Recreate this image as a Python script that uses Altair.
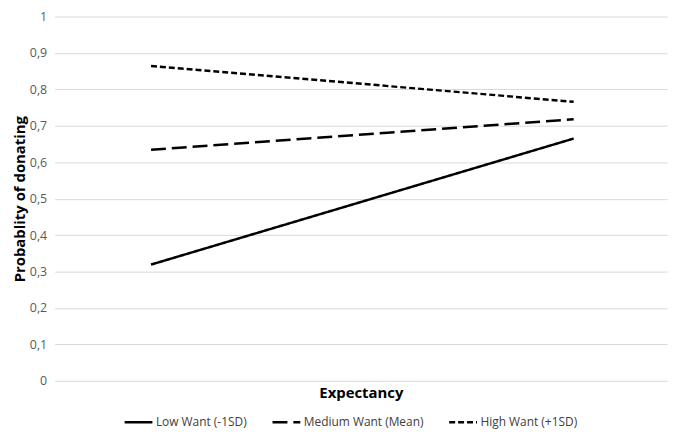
import altair as alt
import pandas as pd

series = ["Low Want (-1SD)", "Medium Want (Mean)", "High Want (+1SD)"]
x_pos = [0, 1]
low_vals = [0.319, 0.665]
medium_vals = [0.634, 0.718]
high_vals = [0.864, 0.766]

rows = []
for name, vals in zip(series, [low_vals, medium_vals, high_vals]):
    for xv, yv in zip(x_pos, vals):
        rows.append({"series": name, "x": xv, "value": yv})
df = pd.DataFrame(rows)

FONT = "Open Sans"

chart = alt.Chart(df).mark_line(strokeWidth=2.5, color="black").encode(
    x=alt.X("x:Q", scale=alt.Scale(domain=[-0.228, 1.221], nice=False, zero=False),
            axis=alt.Axis(title="Expectancy", labels=False, ticks=False, domain=False, grid=False,
                          titleFont=FONT, titleFontSize=15, titleFontWeight="bold", titleColor="black",
                          titlePadding=5)),
    y=alt.Y("value:Q", scale=alt.Scale(domain=[0, 1], nice=False),
            axis=alt.Axis(title="Probablity of donating", values=[i / 10 for i in range(11)],
                          labelExpr="replace(format(datum.value, '.1~f'), '.', ',')",
                          ticks=False, domain=False, gridColor="#d9d9d9", gridWidth=1,
                          labelFont=FONT, labelFontSize=12.5, labelColor="#595959", labelPadding=8,
                          titleFont=FONT, titleFontSize=15, titleFontWeight="bold", titleColor="black",
                          titlePadding=2)),
    strokeDash=alt.StrokeDash("series:N",
        scale=alt.Scale(domain=series, range=[[1, 0], [15, 6], [6, 3]]),
        legend=alt.Legend(title=None, orient="none", direction="horizontal", legendX=69, legendY=393,
                          symbolType="stroke", symbolSize=784, symbolStrokeWidth=2.5,
                          symbolStrokeColor="black", labelFont=FONT, labelFontSize=12,
                          labelColor="#404040", columnPadding=20, labelOffset=2)),
    detail="series:N",
).properties(
    width=617, height=367,
    autosize=alt.AutoSizeParams(type="none"),
    padding={"left": 47, "top": 7, "right": 10, "bottom": 50},
).configure_view(stroke=None)

chart.save("out.html", embed_options={"renderer": "svg", "actions": False})
